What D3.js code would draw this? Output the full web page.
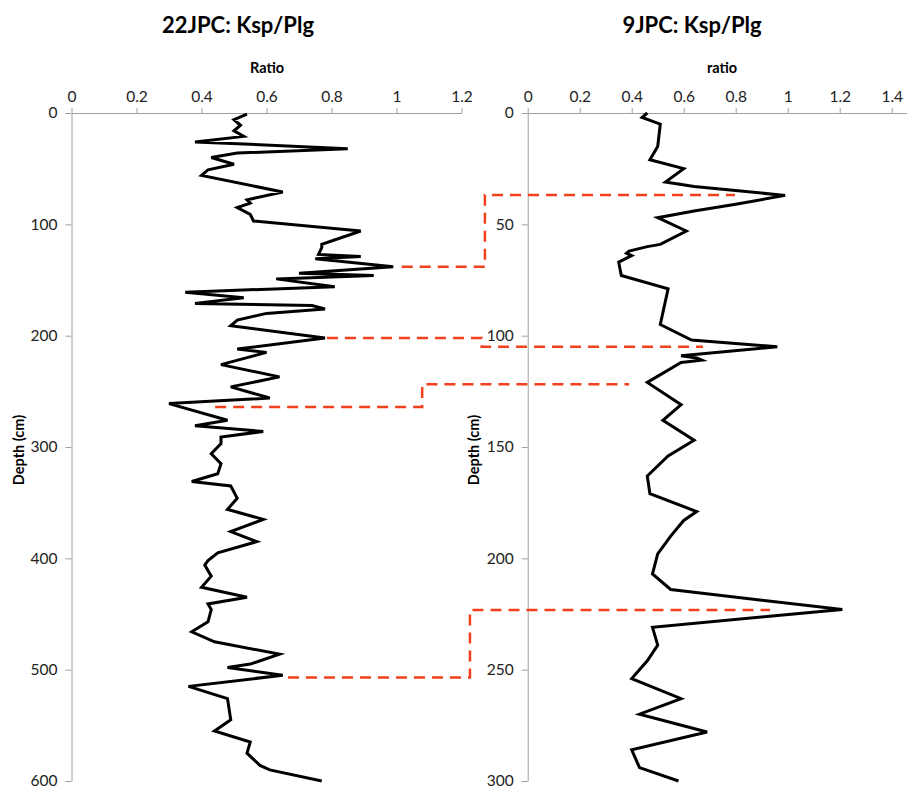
<!DOCTYPE html>
<html>
<head>
<meta charset="utf-8">
<script src="https://cdn.jsdelivr.net/npm/d3@7"></script>
<style>
  body { margin: 0; background: #fff; }
  svg { display: block; font-family: Lato, "Open Sans", sans-serif; }
  .axis path, .axis line { stroke: #a0a0a0; }
  .axis text { fill: #222; font-size: 15.5px; font-family: Lato, sans-serif; }
</style>
</head>
<body>
<svg id="chart" width="907" height="786"></svg>
<script>
// 22JPC core (left panel)
const depth22 = [1, 6, 11, 16, 21, 26, 32, 36, 40, 46, 51, 56, 71, 78, 81, 85, 91, 97, 106, 118,
  121, 127, 129, 131, 138, 144, 146, 149, 156, 161, 166, 171, 173, 176, 180, 186, 191, 202, 212, 215,
  226, 237, 246, 256, 261, 276, 281, 286, 291, 297, 306, 315, 324, 331, 335, 346, 356, 365, 376, 385,
  395, 402, 406, 416, 426, 435, 441, 446, 457, 466, 475, 486, 495, 498, 505, 515, 526, 545, 555, 565,
  575, 586, 590, 600];
const ratio22 = [0.54, 0.50, 0.52, 0.50, 0.53, 0.38, 0.85, 0.51, 0.43, 0.50, 0.42, 0.40, 0.65, 0.54, 0.55, 0.51, 0.55, 0.56, 0.89, 0.77,
  0.77, 0.76, 0.89, 0.75, 0.99, 0.70, 0.93, 0.63, 0.81, 0.35, 0.53, 0.38, 0.74, 0.78, 0.60, 0.51, 0.49, 0.78, 0.51, 0.60,
  0.46, 0.64, 0.49, 0.61, 0.30, 0.48, 0.38, 0.59, 0.46, 0.46, 0.43, 0.46, 0.45, 0.37, 0.49, 0.51, 0.48, 0.59, 0.49, 0.57,
  0.45, 0.42, 0.41, 0.43, 0.40, 0.54, 0.42, 0.43, 0.42, 0.37, 0.44, 0.64, 0.55, 0.48, 0.65, 0.36, 0.48, 0.49, 0.44, 0.55,
  0.54, 0.58, 0.61, 0.77];

// 9JPC core (right panel)
const depth9 = [0, 2, 5, 15, 21, 25, 31, 33, 37, 41, 44, 47, 53, 59, 60, 62, 63, 64, 67, 73,
  79, 95, 102, 105, 109, 110, 111, 112, 121, 131, 138, 147, 154, 163, 171, 179, 183, 190, 198, 207,
  214, 223, 226, 231, 239, 246, 254, 263, 270, 278, 286, 294, 300];
const ratio9 = [0.46, 0.44, 0.51, 0.50, 0.47, 0.60, 0.53, 0.64, 0.99, 0.80, 0.64, 0.50, 0.61, 0.51, 0.46, 0.39, 0.38, 0.40, 0.35, 0.36,
  0.54, 0.51, 0.63, 0.96, 0.59, 0.65, 0.67, 0.59, 0.46, 0.59, 0.52, 0.64, 0.54, 0.46, 0.47, 0.65, 0.60, 0.55, 0.50, 0.48,
  0.55, 1.21, 0.93, 0.48, 0.50, 0.46, 0.40, 0.59, 0.43, 0.69, 0.40, 0.43, 0.58];

const xTicks22 = [0, 0.2, 0.4, 0.6, 0.8, 1, 1.2];
const yTicks22 = [0, 100, 200, 300, 400, 500, 600];
const xTicks9 = [0, 0.2, 0.4, 0.6, 0.8, 1, 1.2, 1.4];
const yTicks9 = [0, 50, 100, 150, 200, 250, 300];

// tie lines between the cores: depth/ratio on 22JPC, bend (in 22JPC ratio units), depth/ratio on 9JPC
const tieDepth22 = [138, 202, 264, 507];
const tieRatio22 = [1.016, 0.786, 0.442, 0.666];
const tieBend = [1.272, 1.262, 1.079, 1.226];
const tieDepth9 = [36.8, 105, 121.8, 223.2];
const tieRatio9 = [0.797, 0.674, 0.39, 0.932];

const svg = d3.select("#chart");

const xL = d3.scaleLinear().domain([0, 1.2]).range([71.5, 461.5]);
const yL = d3.scaleLinear().domain([0, 600]).range([113, 781]);
const xR = d3.scaleLinear().domain([0, 1.5]).range([527.7, 917.7]);
const yR = d3.scaleLinear().domain([0, 300]).range([113, 781]);

function fmt(d) { return d3.format("~g")(d); }

function panel(x, y, xt, yt, title, titleX, xTitle, xTitleX, depth, ratio) {
  const g = svg.append("g");

  g.append("g").attr("class", "axis")
    .attr("transform", `translate(0,${y.range()[0]})`)
    .call(d3.axisTop(x).tickValues(xt).tickFormat(fmt).tickSize(5).tickSizeOuter(0).tickPadding(6));

  g.append("g").attr("class", "axis")
    .attr("transform", `translate(${x.range()[0]},0)`)
    .call(d3.axisLeft(y).tickValues(yt).tickSize(6).tickSizeOuter(0).tickPadding(8));

  g.append("text")
    .attr("x", titleX).attr("y", 33)
    .attr("text-anchor", "middle")
    .style("font-size", "22px").style("font-weight", "bold")
    .text(title);

  g.append("text")
    .attr("x", xTitleX).attr("y", 73)
    .attr("text-anchor", "middle")
    .style("font-size", "14.5px").style("font-weight", "bold")
    .text(xTitle);

  const pts = depth.map((d, i) => [ratio[i], d]);
  g.append("path")
    .datum(pts)
    .attr("fill", "none")
    .attr("stroke", "#000")
    .attr("stroke-width", 3)
    .attr("stroke-linejoin", "miter")
    .attr("d", d3.line().x(d => x(d[0])).y(d => y(d[1])));
}

panel(xL, yL, xTicks22, yTicks22, "22JPC: Ksp/Plg", 238, "Ratio", 267, depth22, ratio22);
panel(xR, yR, xTicks9, yTicks9, "9JPC: Ksp/Plg", 692, "ratio", 722, depth9, ratio9);

// rotated depth titles
[[19, 450], [474, 450]].forEach(p => {
  svg.append("text")
    .attr("transform", `translate(${p[0] + 5},${p[1]}) rotate(-90)`)
    .attr("text-anchor", "middle")
    .style("font-size", "14.5px").style("font-weight", "bold")
    .text("Depth (cm)");
});

// red dashed correlation lines
svg.append("g").selectAll("path")
  .data(tieDepth22.map((d, i) => i))
  .join("path")
  .attr("fill", "none")
  .attr("stroke", "#f2401e")
  .attr("stroke-width", 2.5)
  .attr("stroke-dasharray", "11,7")
  .attr("d", i => `M${xL(tieRatio22[i])},${yL(tieDepth22[i])}H${xL(tieBend[i])}V${yR(tieDepth9[i])}H${xR(tieRatio9[i])}`);
</script>
</body>
</html>
